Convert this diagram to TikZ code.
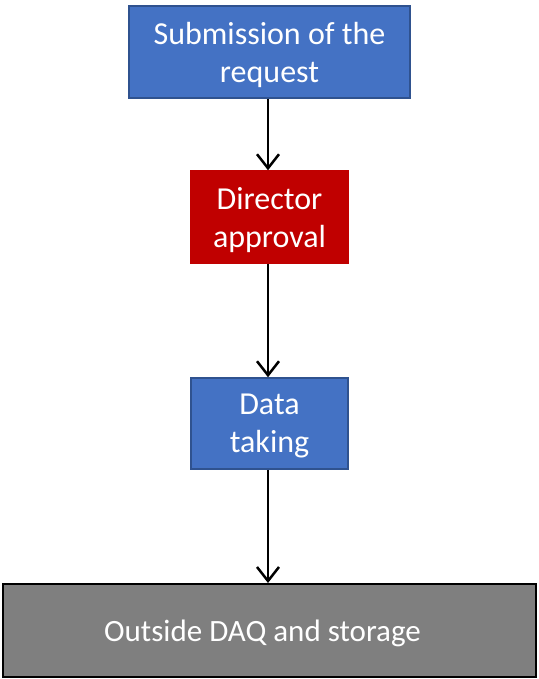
\documentclass[tikz,border=0pt]{standalone}
\usepackage{fontspec}
\setmainfont{Carlito}
\usetikzlibrary{arrows.meta}
\definecolor{bluefill}{HTML}{4472C4}
\definecolor{blueline}{HTML}{2F528F}
\definecolor{redfill}{HTML}{C00000}
\definecolor{grayfill}{HTML}{7F7F7F}
\tikzset{
  box/.style={rectangle, draw, line width=1.5pt, text=white, align=center,
    font=\fontsize{32}{38}\selectfont, inner sep=0pt, text depth=0pt},
  bluebox/.style={box, fill=bluefill, draw=blueline},
  redbox/.style={box, fill=redfill, draw=redfill},
  graybox/.style={box, fill=grayfill, draw=black, line width=2pt, font=\fontsize{31}{38}\selectfont},
  conn/.style={draw=black, line width=2.5pt, -{Straight Barb[length=14pt,width=22pt,line width=2.5pt]}}
}
\begin{document}
\begin{tikzpicture}[x=1pt,y=-1pt]
\useasboundingbox (0,0) rectangle (538,679);
\node[bluebox, minimum width=281pt, minimum height=92pt] (sub) at (269.5,52) {Submission of the\\request};
\node[redbox, minimum width=157pt, minimum height=92pt] (dir) at (269.5,217) {Director\\approval};
\node[bluebox, minimum width=157pt, minimum height=91pt] (data) at (269.5,423.5) {Data\\taking};
\node[graybox, minimum width=533pt, minimum height=93pt] (out) at (269.5,630.5) {Outside DAQ and storage\hspace*{14pt}};
\draw[conn] (sub.south -| 268,0) -- (dir.north -| 268,0);
\draw[conn] (dir.south -| 268,0) -- (data.north -| 268,0);
\draw[conn] (data.south -| 268,0) -- (out.north -| 268,0);
\end{tikzpicture}
\end{document}
